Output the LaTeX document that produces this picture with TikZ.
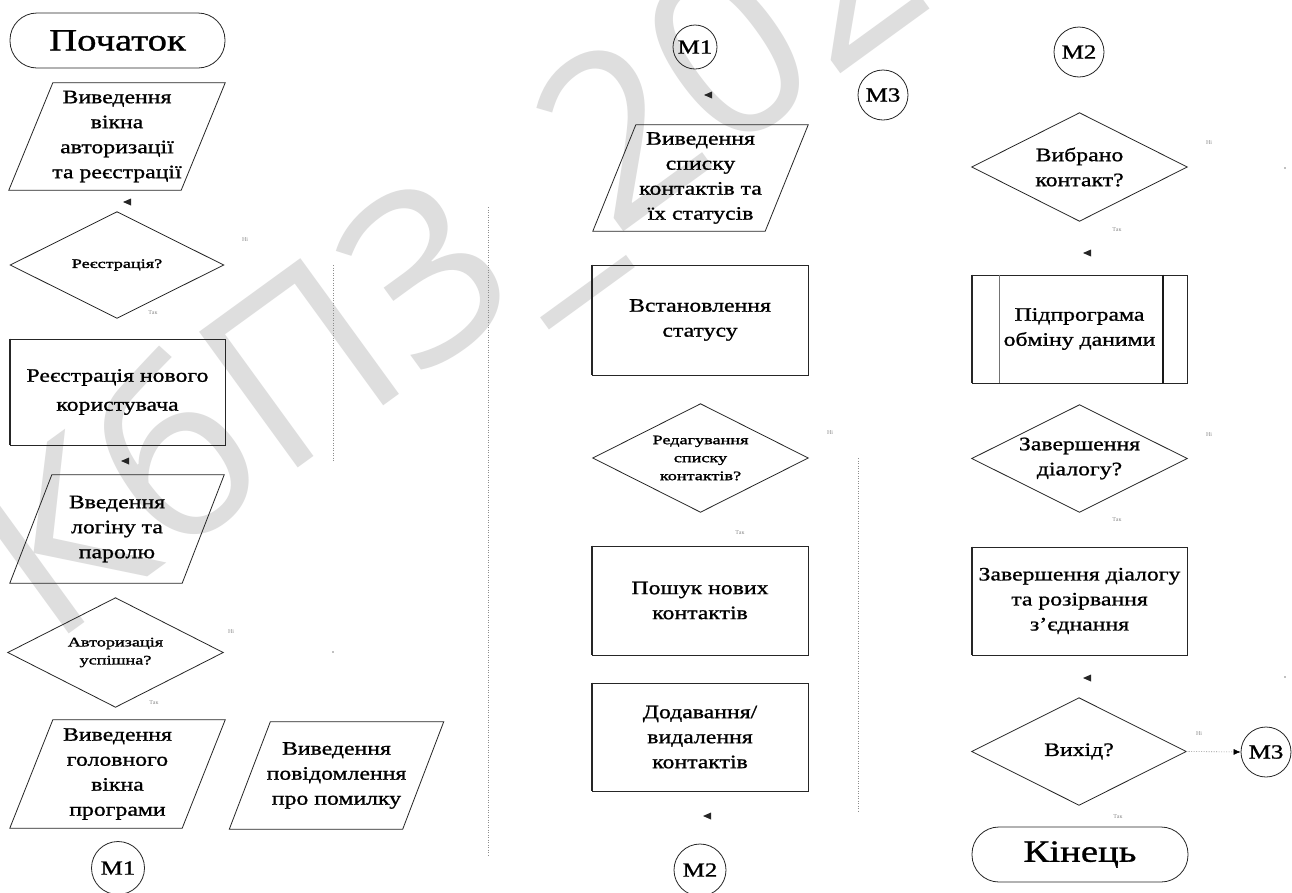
\documentclass[tikz,border=0pt]{standalone}
\usepackage{fontspec}
\setmainfont{Liberation Serif}
\newfontfamily\bodyf[FakeStretch=1.25,FakeBold=1]{Liberation Serif}
\newfontfamily\smallf[FakeStretch=1.4,FakeBold=1.6]{Liberation Serif}
\newfontfamily\wmf{Open Sans}
\usetikzlibrary{arrows.meta}
\newcommand\lefttip[1]{\fill[black!85] (#1) ++(-4,0) -- ++(8,-3.5) -- ++(0,7) -- cycle;}
\newcommand\iobox[2]{\draw[shapeline] ([xshift=#2]#1.north west) -- (#1.north east) -- ([xshift=-#2]#1.south east) -- (#1.south west) -- cycle;}
\newcommand\decbox[1]{\draw[shapeline] (#1.north) -- (#1.east) -- (#1.south) -- (#1.west) -- cycle;}
\newcommand\thickleft[1]{\draw[line width=2pt,black!85] (#1.north west) -- (#1.south west);}
\begin{document}
\begin{tikzpicture}[x=1pt,y=-1pt,
  shapeline/.style={draw=black!85,line width=0.8pt},
  txt/.style={font=\bodyf\fontsize{19}{25}\selectfont,align=center,text=black},
  smalltxt/.style={font=\smallf\fontsize{13}{18}\selectfont,align=center,text=black},
  box/.style={txt,rectangle,shapeline,inner sep=0pt},
  ghost/.style={rectangle,inner sep=0pt},
  term/.style={box,rounded corners=27pt,font=\bodyf\fontsize{31}{31}\selectfont},
  conn/.style={circle,shapeline,inner sep=0pt,font=\bodyf\fontsize{20}{20}\selectfont},
  lbl/.style={font=\fontsize{6}{6}\selectfont,text=black!45,inner sep=0pt},
  dotline/.style={draw=black!45,line width=0.6pt,dash pattern=on 1pt off 1.5pt},
  wm/.style={font=\wmf\fontsize{235}{235}\selectfont,text=black!13,inner sep=0pt}
]
\path[use as bounding box] (0,0) rectangle (1292,892);
\clip (0,0) rectangle (1292,892);
\fill[white] (0,0) rectangle (1292,892);

% watermark
\node[wm,rotate=36,anchor=base west] (wmark) at (50,648) {КбПЗ\_2022};

% ---------- column 1 ----------
\node[term,minimum width=215pt,minimum height=55pt] (start) at (117.5,40.5) {Початок};
\node[ghost,txt,minimum width=216pt,minimum height=107pt] (p1) at (117,136.5) {Виведення\\вікна\\авторизації\\та реєстрації};
\iobox{p1}{44pt}
\node[ghost,smalltxt,minimum width=213pt,minimum height=106pt] (d1) at (117,265) {Реєстрація?};
\decbox{d1}
\node[box,minimum width=215pt,minimum height=106pt] (r1) at (117.5,392) {Реєстрація нового\\[4pt]користувача};
\thickleft{r1}
\node[ghost,txt,minimum width=214pt,minimum height=108pt] (p2) at (117,529) {Введення\\логіну та\\паролю};
\iobox{p2}{42pt}
\node[ghost,smalltxt,minimum width=215pt,minimum height=109pt] (d2) at (115.5,652.5) {Авторизація\\успішна?};
\decbox{d2}
\node[ghost,txt,minimum width=215pt,minimum height=108pt] (p3) at (117.5,774) {Виведення\\головного\\вікна\\програми};
\iobox{p3}{43pt}
\node[ghost,txt,minimum width=214pt,minimum height=107pt] (p4) at (336.5,775.5) {Виведення\\повідомлення\\про помилку};
\iobox{p4}{41pt}
\node[conn,minimum size=53pt] (m1a) at (118,868) {М1};

% ---------- column 2 ----------
\node[conn,minimum size=44pt] (m1b) at (695,47) {М1};
\node[conn,minimum size=50pt] (m3a) at (883,95) {М3};
\node[ghost,txt,minimum width=215pt,minimum height=106pt] (p5) at (700.5,178) {Виведення\\списку\\контактів та\\їх статусів};
\iobox{p5}{43pt}
\node[box,minimum width=216pt,minimum height=110pt] (r2) at (700,320) {Встановлення\\статусу};
\thickleft{r2}
\node[ghost,smalltxt,minimum width=215pt,minimum height=108pt] (d3) at (700.5,458) {Редагування\\списку\\контактів?};
\decbox{d3}
\node[box,minimum width=216pt,minimum height=109pt] (r3) at (700,600.5) {Пошук нових\\контактів};
\thickleft{r3}
\node[box,minimum width=216pt,minimum height=108pt] (r4) at (700,737) {Додавання/\\видалення\\контактів};
\thickleft{r4}
\node[conn,minimum size=52pt] (m2a) at (700,870) {М2};

% ---------- column 3 ----------
\node[conn,minimum size=50pt] (m2b) at (1079,52) {М2};
\node[ghost,txt,minimum width=215pt,minimum height=108pt] (d4) at (1079.5,167) {Вибрано\\контакт?};
\decbox{d4}
\node[box,minimum width=215pt,minimum height=108pt] (pp) at (1079.5,329) {Підпрограма\\обміну даними};
\thickleft{pp}
\draw[black!55,line width=1.3pt] ([xshift=28pt]pp.north west) -- ([xshift=28pt]pp.south west);
\draw[black!90,line width=2pt] ([xshift=-24pt]pp.north east) -- ([xshift=-24pt]pp.south east);
\node[ghost,txt,minimum width=215pt,minimum height=107pt] (d5) at (1079.5,458.5) {Завершення\\діалогу?};
\decbox{d5}
\node[box,minimum width=215pt,minimum height=108pt] (r5) at (1079.5,601) {Завершення діалогу\\та розірвання\\з’єднання};
\thickleft{r5}
\node[ghost,txt,minimum width=214pt,minimum height=107pt] (d6) at (1079,751.5) {Вихід?};
\decbox{d6}
\node[term,minimum width=216pt,minimum height=55pt] (end) at (1080,854.5) {Кінець};
\node[conn,minimum size=50pt] (m3b) at (1266,752) {М3};

% ---------- branch labels ----------
\node[lbl] (d1n) at (245,240) {Ні};
\node[lbl] (d1y) at (153,313) {Так};
\node[lbl] (d2n) at (231,632) {Ні};
\node[lbl] (d2y) at (154,703) {Так};
\node[lbl] (d3n) at (830,433) {Ні};
\node[lbl] (d3y) at (740,533) {Так};
\node[lbl] (d4n) at (1209,143) {Ні};
\node[lbl] (d4y) at (1117,230) {Так};
\node[lbl] (d5n) at (1209,435) {Ні};
\node[lbl] (d5y) at (1117,520) {Так};
\node[lbl] (d6n) at (1199,733) {Ні};
\node[lbl] (d6y) at (1118,817) {Так};

% ---------- visible connector traces ----------
\coordinate (l1a) at (333,265); \coordinate (l1b) at (333,461);
\coordinate (l2a) at (488,207); \coordinate (l2b) at (488,857);
\coordinate (l3a) at (858,458); \coordinate (l3b) at (858,813);
\draw[dotline] (l1a) -- (l1b);
\draw[dotline] (l2a) -- (l2b);
\draw[dotline] (l3a) -- (l3b);
\draw[dotline,-{Latex[length=7pt,width=6pt,black]}] (d6.east) -- (m3b.west);

% floating arrowheads
\coordinate (t1) at (127,202);
\coordinate (t2) at (125,461);
\coordinate (t3) at (708,95);
\coordinate (t4) at (707,816);
\coordinate (t5) at (1087,253);
\coordinate (t6) at (1087,678);
\lefttip{t1}\lefttip{t2}\lefttip{t3}\lefttip{t4}\lefttip{t5}\lefttip{t6}

% tiny remnants
\coordinate (s1) at (1285,168); \coordinate (s2) at (1285,677); \coordinate (s3) at (333,652);
\fill[black!50] (s1) circle (0.8pt);
\fill[black!50] (s2) circle (0.8pt);
\fill[black!50] (s3) circle (0.8pt);
\end{tikzpicture}
\end{document}
